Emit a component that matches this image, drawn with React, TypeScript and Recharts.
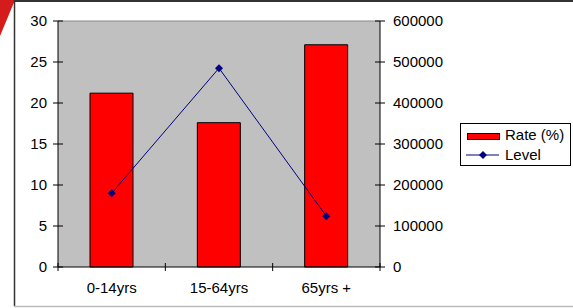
import { Bar, CartesianGrid, ComposedChart, Line, XAxis, YAxis } from 'recharts';

const categories = ['0-14yrs', '15-64yrs', '65yrs +'];
const rateValues = [21.2, 17.6, 27.1];
const levelValues = [180000, 485000, 124000];
const leftTicks = [0, 5, 10, 15, 20, 25, 30];
const rightTicks = [0, 100000, 200000, 300000, 400000, 500000, 600000];

const data = categories.map((name, i) => ({
  name,
  rate: rateValues[i],
  level: levelValues[i],
}));

const FONT = '"Liberation Sans", Arial, sans-serif';
const PLOT_LEFT = 58;
const PLOT_RIGHT = 380;
const BAND = (PLOT_RIGHT - PLOT_LEFT) / categories.length;

function LeftTick({ y, payload }: any) {
  return (
    <g>
      <line x1={PLOT_LEFT - 5} x2={PLOT_LEFT + 5} y1={y} y2={y} stroke="#000" />
      <text x={PLOT_LEFT - 11} y={y} dy={5} textAnchor="end" fontSize={15} fontFamily={FONT} fill="#000">
        {payload.value}
      </text>
    </g>
  );
}

function RightTick({ y, payload }: any) {
  return (
    <g>
      <line x1={PLOT_RIGHT - 5} x2={PLOT_RIGHT + 5} y1={y} y2={y} stroke="#000" />
      <text x={PLOT_RIGHT + 13} y={y} dy={5} textAnchor="start" fontSize={15} fontFamily={FONT} fill="#000">
        {payload.value}
      </text>
    </g>
  );
}

function CategoryTick({ x, y, payload, index }: any) {
  const left = x - BAND / 2;
  return (
    <g>
      <line x1={left} x2={left} y1={263} y2={271} stroke="#000" />
      {index === categories.length - 1 && (
        <line x1={x + BAND / 2} x2={x + BAND / 2} y1={263} y2={271} stroke="#000" />
      )}
      <text x={x} y={y} dy={18} textAnchor="middle" fontSize={15} fontFamily={FONT} fill="#000">
        {payload.value}
      </text>
    </g>
  );
}

function Diamond({ cx, cy }: any) {
  if (cx == null || cy == null) return null;
  return <polygon points={`${cx - 4},${cy} ${cx},${cy - 4} ${cx + 4},${cy} ${cx},${cy + 4}`} fill="#000080" />;
}

export default function App() {
  return (
    <div style={{ position: 'absolute', left: 0, top: 0, width: 573, height: 308, background: '#fff', fontFamily: FONT }}>
      {/* slide decoration and chart frame */}
      <svg width={573} height={308} style={{ position: 'absolute', left: 0, top: 0 }}>
        <polygon points="0,0 15,0 0,36" fill="#d41c1c" />
        <line x1={14.5} x2={14.5} y1={0} y2={306} stroke="#333" strokeWidth={1.5} />
        <line x1={14} x2={573} y1={1} y2={1} stroke="#333" strokeWidth={2} />
        <line x1={14} x2={573} y1={306.5} y2={306.5} stroke="#bbb" strokeWidth={1.5} />
      </svg>
      <div style={{ position: 'absolute', left: 0, top: 0 }}>
        <ComposedChart
          width={573}
          height={308}
          data={data}
          margin={{ top: 21, right: 133, left: 0, bottom: 11 }}
          barCategoryGap="30%"
        >
          <CartesianGrid fill="#c0c0c0" vertical={false} horizontalPoints={[21]} stroke="#888" />
          <XAxis
            dataKey="name"
            height={30}
            axisLine={{ stroke: '#000' }}
            tickLine={false}
            tick={<CategoryTick />}
            interval={0}
          />
          <YAxis
            yAxisId="left"
            width={58}
            domain={[0, 30]}
            ticks={leftTicks}
            axisLine={{ stroke: '#000' }}
            tickLine={false}
            tick={<LeftTick />}
          />
          <YAxis
            yAxisId="right"
            orientation="right"
            width={60}
            domain={[0, 600000]}
            ticks={rightTicks}
            axisLine={{ stroke: '#000' }}
            tickLine={false}
            tick={<RightTick />}
          />
          <Bar
            yAxisId="left"
            dataKey="rate"
            name="Rate (%)"
            fill="#ff0000"
            stroke="#000"
            strokeWidth={1}
            barSize={43}
            isAnimationActive={false}
          />
          <Line
            yAxisId="right"
            dataKey="level"
            name="Level"
            type="linear"
            stroke="#000080"
            strokeWidth={1}
            dot={<Diamond />}
            activeDot={false}
            isAnimationActive={false}
          />
        </ComposedChart>
      </div>
      {/* legend */}
      <div
        style={{
          position: 'absolute',
          left: 460,
          top: 123,
          width: 109,
          height: 41,
          border: '1px solid #000',
          background: '#fff',
          fontSize: 15,
          color: '#000',
        }}
      >
        <div style={{ position: 'absolute', left: 6, top: 9, width: 31, height: 5, background: '#ff0000', border: '1px solid #000' }} />
        <div style={{ position: 'absolute', left: 44, top: 2, lineHeight: '18px' }}>Rate (%)</div>
        <svg style={{ position: 'absolute', left: 5, top: 26 }} width={33} height={10}>
          <line x1={0} x2={33} y1={5} y2={5} stroke="#000080" />
          <polygon points="13,5 17,1 21,5 17,9" fill="#000080" />
        </svg>
        <div style={{ position: 'absolute', left: 44, top: 22, lineHeight: '18px' }}>Level</div>
      </div>
    </div>
  );
}
